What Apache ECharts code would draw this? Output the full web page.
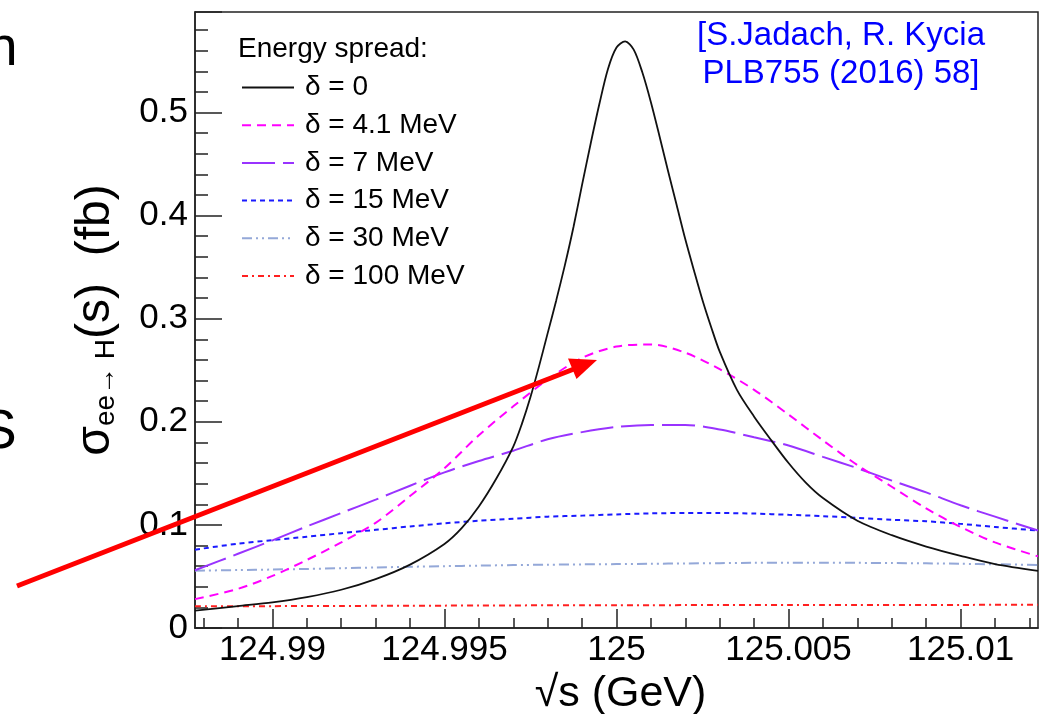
<!DOCTYPE html>
<html>
<head>
<meta charset="utf-8">
<script src="https://cdn.jsdelivr.net/npm/echarts@6/dist/echarts.min.js"></script>
<style>html,body{margin:0;padding:0;background:#fff}#c{width:1042px;height:714px}</style>
</head>
<body>
<div id="c"></div>
<script>
const FONT = '"Liberation Sans", Arial, Helvetica, sans-serif';

// axis ranges and ticks
const xMin = 124.98775, xMax = 125.01225;
const yMin = 0, yMax = 0.5975;
const xTickValues = [124.99, 124.995, 125, 125.005, 125.01];
const xTickLabels = ['124.99', '124.995', '125', '125.005', '125.01'];
const xMinorTickValues = [124.988, 124.989, 124.991, 124.992, 124.993, 124.994, 124.996, 124.997, 124.998, 124.999,
  125.001, 125.002, 125.003, 125.004, 125.006, 125.007, 125.008, 125.009, 125.011, 125.012];
const yTickLabels = ['0', '0.1', '0.2', '0.3', '0.4', '0.5'];

// legend / series names
const seriesNames = ['δ = 0', 'δ = 4.1 MeV', 'δ = 7 MeV', 'δ = 15 MeV', 'δ = 30 MeV', 'δ = 100 MeV'];

// δ = 0 (fine sampling around the peak)
const sqrtSPeak = [124.98775, 124.989, 124.990, 124.991, 124.992, 124.993, 124.994, 124.995, 124.9955, 124.996,
  124.9965, 124.997, 124.99725, 124.9975, 124.99775, 124.998, 124.99825, 124.9985, 124.99875, 124.999,
  124.99925, 124.9995, 124.99975, 125.0, 125.00025, 125.0005, 125.00075, 125.001, 125.00125, 125.0015,
  125.00175, 125.002, 125.00225, 125.0025, 125.00275, 125.003, 125.0035, 125.004, 125.0045, 125.005,
  125.0055, 125.006, 125.007, 125.008, 125.009, 125.010, 125.011, 125.01225];
const sigmaDelta0 = [0.0168, 0.0213, 0.0249, 0.0300, 0.0371, 0.0474, 0.0615, 0.0815, 0.0968, 0.1179,
  0.1445, 0.176, 0.198, 0.224, 0.254, 0.286, 0.318, 0.352, 0.389, 0.430,
  0.470, 0.508, 0.542, 0.563, 0.569, 0.561, 0.539, 0.510, 0.477, 0.443,
  0.410, 0.377, 0.347, 0.318, 0.292, 0.268, 0.231, 0.205, 0.182, 0.160,
  0.141, 0.126, 0.104, 0.090, 0.079, 0.070, 0.062, 0.0555];

// common grid for the smeared curves
const sqrtSGrid = [124.98775, 124.989, 124.990, 124.991, 124.992, 124.993, 124.994, 124.995, 124.996, 124.997,
  124.998, 124.999, 125.0, 125.001, 125.002, 125.003, 125.004, 125.005, 125.006, 125.007,
  125.008, 125.009, 125.010, 125.011, 125.01225];
const sigmaDelta4p1 = [0.028, 0.038, 0.0505, 0.066, 0.083, 0.102, 0.128, 0.155, 0.187, 0.215,
  0.241, 0.262, 0.273, 0.275, 0.267, 0.251, 0.231, 0.207, 0.182, 0.158,
  0.137, 0.116, 0.098, 0.083, 0.0695];
const sigmaDelta7 = [0.056, 0.072, 0.085, 0.0985, 0.1115, 0.1245, 0.138, 0.151, 0.162, 0.172,
  0.183, 0.190, 0.195, 0.197, 0.197, 0.1925, 0.185, 0.177, 0.166, 0.155,
  0.143, 0.1315, 0.119, 0.108, 0.0945];
const sigmaDelta15 = [0.076, 0.0818, 0.0852, 0.0885, 0.092, 0.0952, 0.0985, 0.1015, 0.104, 0.106,
  0.108, 0.109, 0.1102, 0.1112, 0.1115, 0.1115, 0.111, 0.1098, 0.1085, 0.1068,
  0.105, 0.1035, 0.101, 0.098, 0.0945];
const sigmaDelta30 = [0.0556, 0.0562, 0.0567, 0.0573, 0.058, 0.0587, 0.0594, 0.060, 0.0605, 0.061,
  0.0614, 0.0617, 0.062, 0.0623, 0.0626, 0.0629, 0.0632, 0.0634, 0.0634, 0.0632,
  0.063, 0.0627, 0.0623, 0.0618, 0.0612];
const sigmaDelta100 = [0.0210, 0.0211, 0.0212, 0.0213, 0.0214, 0.0215, 0.0216, 0.0217, 0.0218, 0.0219,
  0.0220, 0.0220, 0.0221, 0.0221, 0.0222, 0.0222, 0.0223, 0.0223, 0.0223, 0.0224,
  0.0224, 0.0224, 0.0224, 0.0225, 0.0225];

const zip = (xs, ys) => xs.map((x, i) => [x, ys[i]]);

const styles = [
  { color: '#111111', type: 'solid', width: 1.8 },
  { color: '#ff00ff', type: [9, 6], width: 2 },
  { color: '#9933ff', type: [33, 8], width: 2 },
  { color: '#1a1aff', type: [5, 4], width: 2 },
  { color: '#94a8d8', type: [10, 4, 2, 4, 2, 4], width: 2 },
  { color: '#ff2020', type: [6, 4, 2, 4], width: 2 }
];
const seriesData = [
  zip(sqrtSPeak, sigmaDelta0),
  zip(sqrtSGrid, sigmaDelta4p1),
  zip(sqrtSGrid, sigmaDelta7),
  zip(sqrtSGrid, sigmaDelta15),
  zip(sqrtSGrid, sigmaDelta30),
  zip(sqrtSGrid, sigmaDelta100)
];

const axisColor = '#222';
const chart = echarts.init(document.getElementById('c'), null, { renderer: 'canvas' });
chart.setOption({
  animation: false,
  backgroundColor: '#ffffff',
  grid: {
    left: 195, right: 4, top: 12, bottom: 86, containLabel: false, outerBoundsMode: 'none',
    show: true, borderColor: axisColor, borderWidth: 1.5, backgroundColor: 'transparent'
  },
  title: {
    text: 'Energy spread:', left: 238, top: 35,
    textStyle: { fontFamily: FONT, fontSize: 28, fontWeight: 'normal', color: '#000', lineHeight: 28 },
    padding: 0
  },
  legend: {
    data: seriesNames, orient: 'vertical', left: 241, top: 73.5,
    itemWidth: 52, itemHeight: 14, itemGap: 9.7, padding: 0,
    selectedMode: false,
    itemStyle: { opacity: 0 },
    textStyle: { fontFamily: FONT, fontSize: 28, color: '#000', lineHeight: 28, padding: [0, 0, 0, 6] }
  },
  xAxis: [
    {
      type: 'value', min: xMin, max: xMax, position: 'bottom',
      axisLine: { show: true, onZero: false, lineStyle: { color: axisColor, width: 1.5 } },
      axisTick: { show: true, inside: true, length: 19, customValues: xTickValues, lineStyle: { color: axisColor, width: 1.5 } },
      axisLabel: {
        show: true, customValues: xTickValues, margin: 5, fontSize: 35, fontFamily: FONT, color: '#000',
        formatter: function (v) {
          let best = 0;
          xTickValues.forEach((t, i) => { if (Math.abs(t - v) < Math.abs(xTickValues[best] - v)) best = i; });
          return xTickLabels[best];
        }
      },
      splitLine: { show: false },
      name: '√s (GeV)', nameLocation: 'middle', nameGap: 33,
      nameTextStyle: { fontFamily: FONT, fontSize: 43, color: '#000', lineHeight: 43, padding: [0, 0, 0, 8] }
    },
    {
      type: 'value', min: xMin, max: xMax, position: 'bottom',
      axisLine: { show: false },
      axisTick: { show: true, inside: true, length: 10, customValues: xMinorTickValues, lineStyle: { color: axisColor, width: 1.5 } },
      axisLabel: { show: false },
      splitLine: { show: false }
    }
  ],
  yAxis: {
    type: 'value', min: yMin, max: yMax, interval: 0.1,
    axisLine: { show: true, onZero: false, lineStyle: { color: axisColor, width: 1.5 } },
    axisTick: { show: true, inside: true, length: 27, lineStyle: { color: axisColor, width: 1.5 } },
    minorTick: { show: true, splitNumber: 5, length: 13, lineStyle: { color: axisColor, width: 1.5 } },
    axisLabel: {
      margin: 7, fontSize: 35, fontFamily: FONT, color: '#000', showMaxLabel: false,
      formatter: function (v) { const k = Math.round(v * 10); return yTickLabels[k] !== undefined && Math.abs(v - k / 10) < 1e-6 ? yTickLabels[k] : ''; }
    },
    splitLine: { show: false },
    name: '{g|σ}{sub|ee→ H}{g|(s)  (fb)}', nameLocation: 'middle', nameGap: 75,
    nameTextStyle: {
      fontFamily: FONT, fontSize: 48, color: '#000',
      rich: {
        g: { fontFamily: FONT, fontSize: 48, color: '#000' },
        sub: { fontFamily: FONT, fontSize: 28, lineHeight: 28, color: '#000', verticalAlign: 'bottom', padding: [43, 0, 0, 0] }
      }
    }
  },
  series: seriesNames.map((name, i) => ({
    name: name, type: 'line', xAxisIndex: 0, yAxisIndex: 0,
    data: seriesData[i], symbol: 'none', showSymbol: false,
    smooth: 0.3,
    lineStyle: { color: styles[i].color, type: styles[i].type, width: styles[i].width },
    itemStyle: { color: styles[i].color },
    z: 2 + (5 - i)
  })),
  graphic: [
    { type: 'text', x: 841, y: 17, z: 10,
      style: { text: '[S.Jadach, R. Kycia\nPLB755 (2016) 58]', fill: '#0000ff', font: '33px ' + FONT, align: 'center', verticalAlign: 'top', lineHeight: 38 } },
    { type: 'text', x: -13, y: 50, z: 10,
      style: { text: 'n', fill: '#000', font: '55px ' + FONT, align: 'left', verticalAlign: 'middle' } },
    { type: 'text', x: -20, y: 433, z: 10,
      style: { text: 'S', fill: '#000', font: '55px ' + FONT, align: 'left', verticalAlign: 'middle' } },
    { type: 'line', z: 20, shape: { x1: 17, y1: 586, x2: 574, y2: 369 },
      style: { stroke: '#ff0000', lineWidth: 5 } },
    { type: 'polygon', z: 20, shape: { points: [[597, 360], [576.5, 379], [568, 358.5]] },
      style: { fill: '#ff0000' } }
  ]
});
</script>
</body>
</html>
